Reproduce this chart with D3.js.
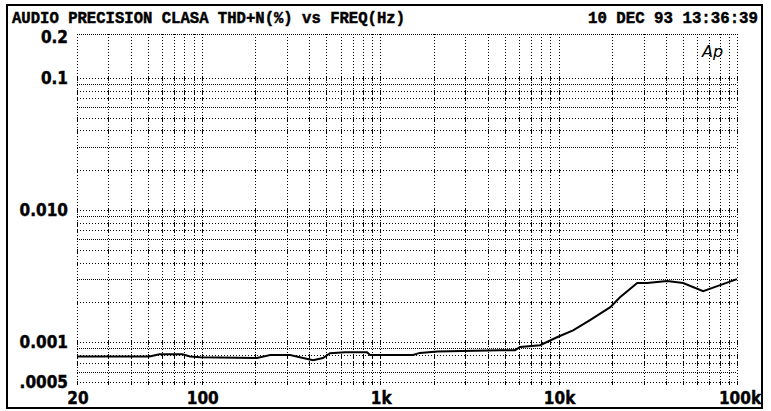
<!DOCTYPE html>
<html><head><meta charset="utf-8">
<script src="https://cdn.jsdelivr.net/npm/d3@7"></script>
<style>body{margin:0;background:#fff}svg{display:block}</style>
</head><body>
<script>
// ---- data ----
const titleText = "AUDIO PRECISION CLASA THD+N(%) vs FREQ(Hz)";
const dateText = "10 DEC 93 13:36:39";
const freqs = [20, 27, 51, 58, 78, 86, 98, 204, 242, 313, 370, 421, 478, 524, 636, 845, 877, 1530, 1670, 2090, 4700, 5700, 6090, 7880, 9800, 12060, 15000, 19500, 22100, 27600, 31400, 40600, 49900, 64600, 80400, 100000];
const thdn  = [0.00078, 0.00078, 0.00078, 0.00081, 0.00081, 0.00078, 0.00077, 0.00076, 0.00080, 0.00080, 0.00076, 0.00073, 0.00076, 0.000825, 0.00084, 0.00084, 0.00080, 0.00080, 0.00083, 0.00085, 0.00087, 0.00087, 0.00092, 0.00095, 0.00109, 0.00123, 0.00147, 0.00184, 0.00219, 0.00280, 0.00280, 0.00290, 0.00280, 0.00243, 0.00270, 0.00300];
const yTickValues = [0.2, 0.1, 0.01, 0.001, 0.0005];
const yTickLabels = ["0.2", "0.1", "0.010", "0.001", ".0005"];
const xTickValues = [20, 100, 1000, 10000, 100000];
const xTickLabels = ["20", "100", "1k", "10k", "100k"];

const W = 771, H = 411;
const svg = d3.select("body").append("svg").attr("width", W).attr("height", H);

const x = d3.scaleLog().domain([20, 100000]).range([77, 737]);
const y = d3.scaleLog().domain([0.0005, 0.2]).range([382, 38]);
const plotTop = 34;

// outer frame
svg.append("rect").attr("x", 7).attr("y", 5).attr("width", 755).attr("height", 403)
  .attr("fill", "none").attr("stroke", "#000").attr("stroke-width", 2);

// title + date
const monoFont = "Liberation Mono, DejaVu Sans Mono, monospace";
svg.append("text").attr("x", 12).attr("y", 23).text(titleText)
  .attr("font-family", monoFont).attr("font-weight", "bold")
  .attr("font-size", 17).attr("textLength", 393).attr("lengthAdjust", "spacingAndGlyphs")
  .attr("stroke", "#000").attr("stroke-width", 0.5);
svg.append("text").attr("x", 588).attr("y", 23).text(dateText)
  .attr("font-family", monoFont).attr("font-weight", "bold")
  .attr("font-size", 17).attr("textLength", 170).attr("lengthAdjust", "spacingAndGlyphs")
  .attr("stroke", "#000").attr("stroke-width", 0.5);

// grid
const grid = svg.append("g").attr("stroke", "#000").attr("stroke-width", 1).attr("shape-rendering", "crispEdges");
const vLines = [];
for (let d = 10; d <= 100000; d *= 10) for (let k = 1; k <= 9; k++) { const f = d * k; if (f >= 20 && f <= 100000) vLines.push(f); }
const hLines = [];
for (let d = 0.0001; d <= 0.1 + 1e-12; d *= 10) for (let k = 1; k <= 9; k++) { const v = +(d * k).toPrecision(3); if (v >= 0.0005 && v <= 0.1 + 1e-12) hLines.push({v, k}); }
const px = f => Math.round(x(f)) + 0.5;
const py = v => Math.round(y(v)) + 0.5;
grid.selectAll("line.v").data(vLines).join("line").attr("class", "v")
  .attr("x1", px).attr("x2", px)
  .attr("y1", plotTop).attr("y2", y(0.0005))
  .attr("stroke-dasharray", "1,2");
const denseK = new Set([3, 6, 9]);
grid.selectAll("line.h").data(hLines).join("line").attr("class", "h")
  .attr("x1", x(20)).attr("x2", x(100000))
  .attr("y1", d => py(d.v)).attr("y2", d => py(d.v))
  .attr("stroke-dasharray", d => denseK.has(d.k) ? "1,1" : "1,2");
grid.append("line").attr("x1", x(20)).attr("x2", x(100000)).attr("y1", plotTop + 0.5).attr("y2", plotTop + 0.5)
  .attr("stroke-dasharray", "1,1");
// "+" marks where the marked grid lines cross the verticals
const marked = hLines.filter(d => !denseK.has(d.k));
const crosses = [];
marked.forEach(h => vLines.forEach(f => crosses.push([f, h.v])));
grid.selectAll("line.m").data(crosses).join("line").attr("class", "m")
  .attr("x1", d => px(d[0])).attr("x2", d => px(d[0]))
  .attr("y1", d => py(d[1]) - 2).attr("y2", d => py(d[1]) + 2.5);

// axis labels
const lblFont = "DejaVu Sans Condensed, DejaVu Sans, sans-serif";
svg.selectAll("text.yt").data(yTickValues).join("text").attr("class", "yt")
  .attr("x", 68).attr("y", (d, i) => (i === 0 ? y(d) - 1 : y(d)) + 6)
  .attr("text-anchor", "end").attr("font-family", lblFont).attr("font-weight", "bold").attr("font-size", 17)
  .attr("stroke", "#000").attr("stroke-width", 0.4)
  .text((d, i) => yTickLabels[i]);
svg.selectAll("text.xt").data(xTickValues).join("text").attr("class", "xt")
  .attr("x", (d, i) => x(d) + (i === xTickValues.length - 1 ? 3 : 1)).attr("y", 404)
  .attr("text-anchor", "middle").attr("font-family", lblFont).attr("font-weight", "bold").attr("font-size", 17)
  .attr("stroke", "#000").attr("stroke-width", 0.4)
  .text((d, i) => xTickLabels[i]);

// Ap logo
svg.append("text").attr("x", 702).attr("y", 57).text("Ap")
  .attr("font-family", "DejaVu Sans, sans-serif").attr("font-style", "italic").attr("font-size", 16)
  .attr("fill", "#000");

// curve
const line = d3.line().x(d => x(d[0])).y(d => y(d[1]));
svg.append("path").datum(freqs.map((f, i) => [f, thdn[i]]))
  .attr("d", line).attr("fill", "none").attr("stroke", "#000").attr("stroke-width", 2);
</script>
</body></html>
